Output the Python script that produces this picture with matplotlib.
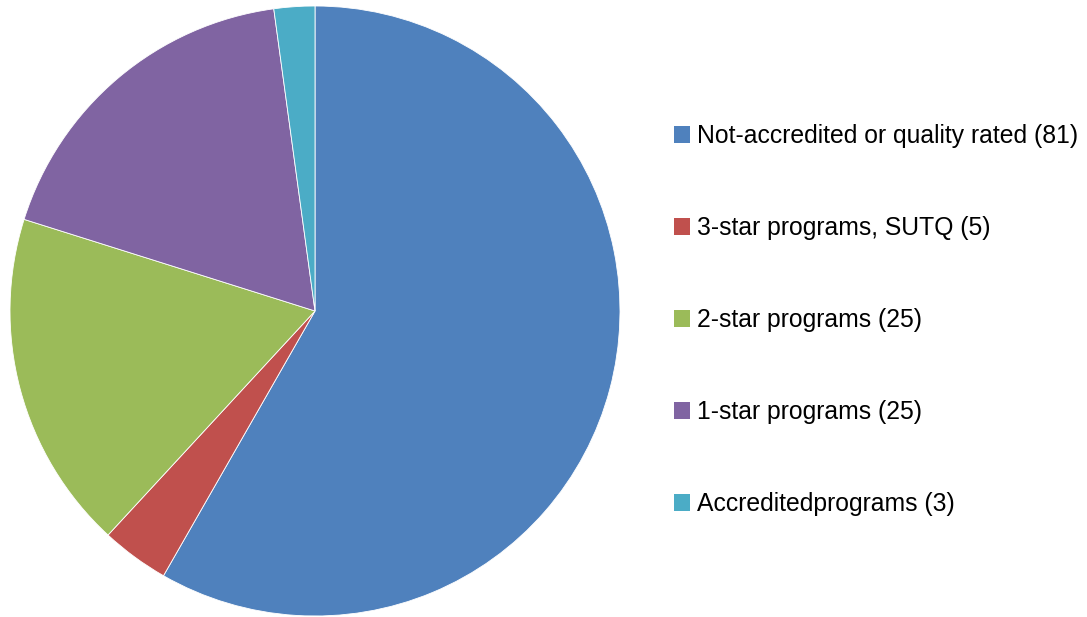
import matplotlib.pyplot as plt
from matplotlib.patches import Patch

labels = ['Not-accredited or quality rated (81)', '3-star programs, SUTQ (5)',
          '2-star programs (25)', '1-star programs (25)', 'Accreditedprograms (3)']
values = [81, 5, 25, 25, 3]
colors = ['#4F81BD', '#C0504D', '#9BBB59', '#8064A2', '#4BACC6']

plt.rcParams['font.family'] = ['Liberation Sans', 'DejaVu Sans']

fig = plt.figure(figsize=(10.87, 6.17), dpi=100)
ax = fig.add_axes([10 / 1087, 1 / 617, 610 / 1087, 610 / 617])
ax.pie(values, colors=colors, startangle=90, counterclock=False,
       wedgeprops=dict(edgecolor='white', linewidth=0.6))
ax.set_xlim(-1, 1)
ax.set_ylim(-1, 1)
ax.set_aspect('equal')

handles = [Patch(facecolor=c, edgecolor='none') for c in colors]
fig.legend(handles, labels, loc='center left', bbox_to_anchor=(674 / 1087, 0.481),
           frameon=False, fontsize=17.8, handlelength=0.65, handleheight=0.65,
           handletextpad=0.3, labelspacing=2.75, borderpad=0, borderaxespad=0)

fig.savefig('out.png', dpi=100)
